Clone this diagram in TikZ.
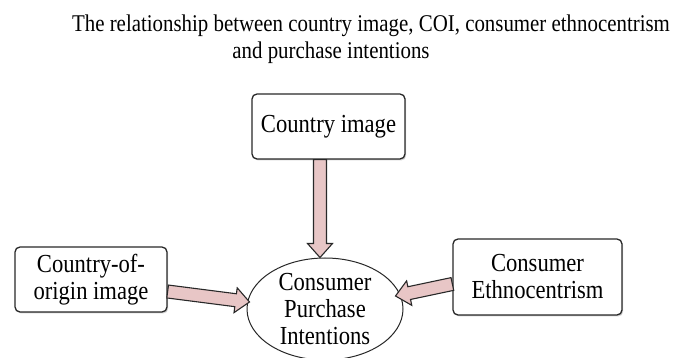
\documentclass[tikz,border=0pt]{standalone}
\usepackage{fontspec}
\setmainfont{Liberation Serif}[FakeStretch=0.87]
\usetikzlibrary{calc,shadows,shapes.geometric}
\definecolor{arrowpink}{RGB}{232,198,198}
\definecolor{edgegray}{RGB}{40,40,40}
\tikzset{
  txt/.style={font=\fontsize{24}{27}\selectfont, inner sep=0pt},
  btxt/.style={font=\fontsize{26}{27}\selectfont, inner sep=0pt},
  box/.style={btxt, draw=edgegray, line width=1.3pt, rounded corners=5pt, fill=white, align=center,
    drop shadow={shadow xshift=1.2pt, shadow yshift=-1.5pt, opacity=0.35}},
  oval/.style={btxt, ellipse, draw=edgegray, line width=1pt, fill=white, align=center},
  barrow/.style={draw=edgegray, line width=1.1pt, fill=arrowpink, line join=miter},
}
\newcommand{\blockarrow}[2]{%
  \coordinate (tmpC) at ($(#2)!14pt!(#1)$);
  \draw[barrow] ($(#1)!6.5pt!90:(#2)$) -- ($(tmpC)!6.5pt!90:(#2)$) -- ($(tmpC)!12.5pt!90:(#2)$)
    -- (#2) -- ($(tmpC)!12.5pt!-90:(#2)$) -- ($(tmpC)!6.5pt!-90:(#2)$) -- ($(#1)!6.5pt!-90:(#2)$) -- cycle;
}
\begin{document}
\begin{tikzpicture}[x=1pt,y=-1pt]
\useasboundingbox (0,0) rectangle (673,358);
\node[txt, anchor=base] (t1) at (371,32) {The relationship between country image, COI, consumer ethnocentrism};
\node[txt, anchor=base] (t2) at (331,59) {and purchase intentions};

\node[box, minimum width=153pt, minimum height=65pt] (ci) at (328.5,126.5) {Country image};
\node[box, minimum width=152pt, minimum height=65pt] (coo) at (91,279.5) {Country-of-\\origin image};
\node[box, minimum width=169pt, minimum height=76pt] (ce) at (537.5,277) {Consumer\\Ethnocentrism};
\node[oval, minimum width=156pt, minimum height=102pt] (cpi) at (325,309) {Consumer\\Purchase\\Intentions};

\coordinate (a1s) at ($(ci.south)+(-8.5,0)$);
\coordinate (a1e) at ($(cpi.north)+(-5,0)$);
\coordinate (a2s) at ($(coo.east)+(0,12)$);
\coordinate (a2e) at ($(cpi.west)+(3,-7)$);
\coordinate (a3s) at ($(ce.west)+(0,7)$);
\coordinate (a3e) at ($(cpi.east)+(-8,-13)$);
\blockarrow{a1s}{a1e}
\blockarrow{a2s}{a2e}
\blockarrow{a3s}{a3e}
\end{tikzpicture}
\end{document}
